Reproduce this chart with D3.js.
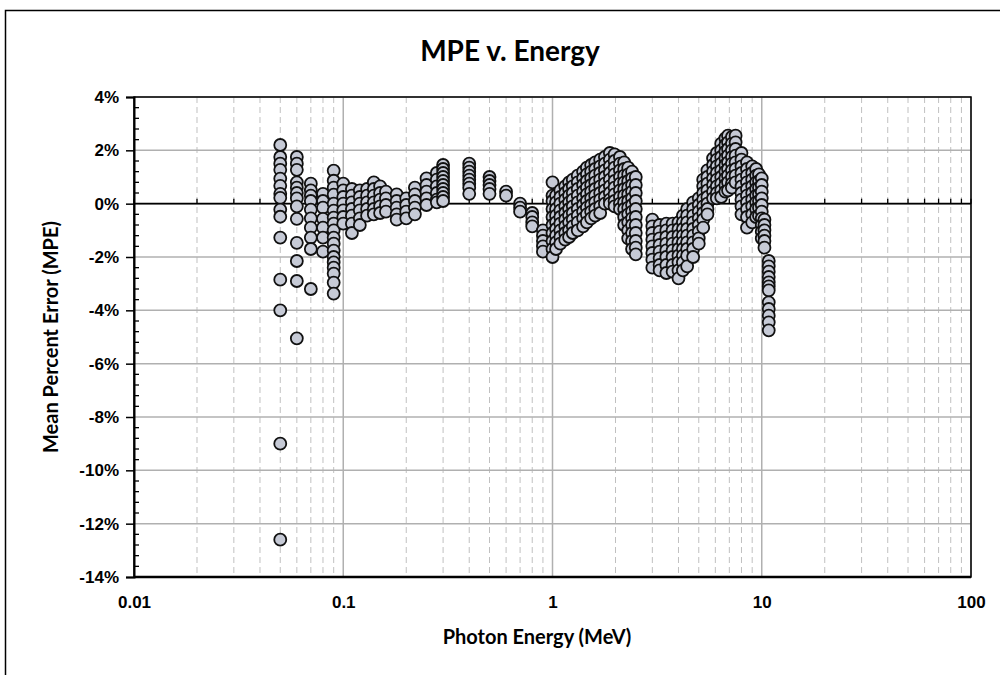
<!DOCTYPE html>
<html>
<head>
<meta charset="utf-8">
<script src="https://cdn.jsdelivr.net/npm/d3@7"></script>
<style>
  html, body { margin: 0; padding: 0; background: #fff; }
  svg { display: block; font-family: Lato, "Open Sans", sans-serif; }
</style>
</head>
<body>
<svg width="1000" height="675"></svg>
<script>
(function () {

  // photon energies (MeV), one column of points each
  const energies = [
    0.05, 0.06, 0.07, 0.08, 0.09, 0.1, 0.11, 0.12, 0.13, 0.14, 0.15, 0.16, 0.18, 0.2,
    0.22, 0.25, 0.28, 0.3, 0.4, 0.5, 0.6, 0.7, 0.8, 0.9, 1.0,
    1.04, 1.09, 1.15, 1.2, 1.25, 1.32, 1.4, 1.46, 1.53, 1.6, 1.69, 1.78, 1.88, 1.98,
    2.1, 2.2, 2.3, 2.4, 2.5,
    3.0, 3.25, 3.5, 3.75, 4.0, 4.2, 4.4, 4.7, 5.0, 5.25, 5.5, 5.85, 6.1, 6.4, 6.7,
    6.9, 7.2, 7.5, 8.0, 8.5, 9.0, 9.4, 9.7, 10.0, 10.3, 10.8
  ];

  const mpe = [
    [2.2, 1.75, 1.5, 1.27, 0.94, 0.67, 0.37, 0.22, -0.22, -0.49, -1.27, -2.85, -4.0, -9.0, -12.6],
    [1.75, 1.5, 1.27, 0.8, 0.6, 0.4, 0.2, -0.1, -0.57, -1.47, -2.15, -2.9, -5.05],
    [0.75, 0.5, 0.3, 0.1, -0.22, -0.55, -0.9, -1.27, -1.7, -3.2],
    [0.37, 0.1, -0.15, -0.57, -0.9, -1.27, -1.8],
    [1.24, 0.86, 0.6, 0.34, 0, -0.26, -0.52, -0.75, -1.0, -1.27, -1.5, -1.76, -2.0, -2.2, -2.4, -2.62, -2.96, -3.37],
    [0.75, 0.5, 0.25, 0, -0.25, -0.5, -0.75],
    [0.55, 0.3, 0.05, -0.2, -0.45, -0.75, -1.1],
    [0.5, 0.25, 0, -0.25, -0.55, -0.8],
    [0.55, 0.3, 0.05, -0.2, -0.45],
    [0.8, 0.55, 0.3, 0.05, -0.2, -0.4],
    [0.65, 0.4, 0.15, -0.1, -0.35],
    [0.45, 0.2, -0.05, -0.3],
    [0.35, 0.1, -0.15, -0.4, -0.6],
    [0.2, -0.05, -0.3, -0.55],
    [0.6, 0.35, 0.1, -0.15, -0.4],
    [0.95, 0.7, 0.45, 0.2, -0.05],
    [1.15, 0.9, 0.65, 0.4, 0.15, 0.05],
    [1.45, 1.3, 1.15, 1.0, 0.85, 0.7, 0.55, 0.4, 0.25, 0.1],
    [1.5, 1.35, 1.2, 1.05, 0.9, 0.75, 0.6, 0.37],
    [1.0, 0.85, 0.7, 0.55, 0.37],
    [0.45, 0.3],
    [0.0, -0.15, -0.3],
    [-0.35, -0.5, -0.7, -0.85],
    [-1.0, -1.2, -1.4, -1.6, -1.8],
    [0.8, 0.3, 0.1, -0.2, -0.5, -0.8, -1.1, -1.4, -1.7, -2.0],
    [0.3, 0.05, -0.2, -0.45, -0.7, -0.95, -1.2, -1.45, -1.7],
    [0.5, 0.25, 0, -0.25, -0.5, -0.75, -1.0, -1.25, -1.5],
    [0.65, 0.4, 0.15, -0.1, -0.35, -0.6, -0.85, -1.1, -1.35],
    [0.8, 0.55, 0.3, 0.05, -0.2, -0.45, -0.7, -1.0, -1.25],
    [0.9, 0.65, 0.4, 0.15, -0.1, -0.35, -0.6, -0.85, -1.1],
    [1.05, 0.8, 0.55, 0.3, 0.05, -0.2, -0.45, -0.7, -1.0],
    [1.2, 0.95, 0.7, 0.45, 0.2, -0.05, -0.3, -0.55, -0.85],
    [1.35, 1.1, 0.85, 0.6, 0.35, 0.1, -0.15, -0.4, -0.7],
    [1.45, 1.2, 0.95, 0.7, 0.45, 0.2, -0.05, -0.3, -0.55],
    [1.55, 1.3, 1.05, 0.8, 0.55, 0.3, 0.05, -0.2, -0.45],
    [1.65, 1.4, 1.15, 0.9, 0.65, 0.4, 0.15, -0.1, -0.35],
    [1.75, 1.5, 1.25, 1.0, 0.75, 0.5, 0.25, 0.0],
    [1.9, 1.65, 1.4, 1.15, 0.9, 0.65, 0.4, 0.15, 0.0],
    [1.85, 1.6, 1.35, 1.1, 0.85, 0.6, 0.35, 0.1, -0.1],
    [1.75, 1.5, 1.25, 1.0, 0.75, 0.5, 0.25, 0.0, -0.2],
    [1.55, 1.3, 1.05, 0.8, 0.55, 0.3, 0.05, -0.2, -0.5, -0.8],
    [1.35, 1.1, 0.85, 0.6, 0.35, 0.1, -0.15, -0.4, -0.7, -1.0, -1.3],
    [1.2, 0.95, 0.7, 0.45, 0.2, -0.05, -0.3, -0.55, -0.8, -1.1, -1.4, -1.7],
    [1.0, 0.7, 0.4, 0.1, -0.2, -0.5, -0.8, -1.1, -1.4, -1.65, -1.9],
    [-0.6, -0.85, -1.1, -1.35, -1.6, -1.85, -2.1, -2.4],
    [-0.8, -1.05, -1.3, -1.55, -1.8, -2.05, -2.3, -2.5],
    [-0.75, -1.0, -1.25, -1.5, -1.75, -2.0, -2.3, -2.6],
    [-0.75, -1.0, -1.25, -1.5, -1.75, -2.0, -2.3, -2.55],
    [-0.7, -0.95, -1.2, -1.45, -1.7, -1.95, -2.2, -2.5, -2.8],
    [-0.45, -0.7, -0.95, -1.2, -1.45, -1.7, -1.95, -2.2, -2.5],
    [-0.2, -0.45, -0.7, -0.95, -1.2, -1.45, -1.7, -1.95, -2.35],
    [0.05, -0.2, -0.45, -0.7, -0.95, -1.2, -1.45, -1.7, -2.0],
    [0.2, -0.05, -0.3, -0.55, -0.8, -1.05, -1.3, -1.5],
    [0.9, 0.65, 0.4, 0.15, -0.1, -0.35, -0.6, -0.9],
    [1.25, 1.0, 0.75, 0.5, 0.25, 0.0, -0.2, -0.4],
    [1.7, 1.45, 1.2, 0.95, 0.7, 0.45, 0.2],
    [1.9, 1.65, 1.4, 1.15, 0.9, 0.65, 0.4, 0.2],
    [2.25, 2.0, 1.75, 1.5, 1.25, 1.0, 0.75, 0.5, 0.25],
    [2.45, 2.2, 1.95, 1.7, 1.45, 1.2, 0.95, 0.7, 0.45],
    [2.55, 2.3, 2.05, 1.8, 1.55, 1.3, 1.05, 0.8, 0.5],
    [2.5, 2.25, 2.0, 1.75, 1.5, 1.25, 1.0, 0.75, 0.6],
    [2.55, 2.3, 2.05, 1.8, 1.55, 1.3, 1.05, 0.8],
    [1.9, 1.65, 1.4, 1.15, 0.9, 0.65, 0.4, 0.15, -0.1, -0.4],
    [1.55, 1.3, 1.05, 0.8, 0.55, 0.3, 0.05, -0.2, -0.5, -0.9],
    [1.4, 1.15, 0.9, 0.65, 0.4, 0.15, -0.1, -0.4, -0.7],
    [1.3, 1.05, 0.8, 0.55, 0.3, 0.05, -0.2, -0.5],
    [1.1, 0.85, 0.6, 0.35, 0.1, -0.15, -0.45],
    [0.95, 0.7, 0.45, 0.2, -0.05, -0.3, -0.55, -0.8, -1.05, -1.3],
    [-0.6, -0.8, -1.0, -1.2, -1.4, -1.65],
    [-2.15, -2.35, -2.55, -2.75, -2.95, -3.1, -3.25, -3.7, -3.95, -4.2, -4.45, -4.75]
  ];

  const xTicks = [0.01, 0.1, 1, 10, 100];
  const xTickLabels = ["0.01", "0.1", "1", "10", "100"];
  const yTicks = [4, 2, 0, -2, -4, -6, -8, -10, -12, -14];

  const svg = d3.select("svg");
  const plot = { left: 134, right: 971, top: 97, bottom: 577 };

  const x = d3.scaleLog().domain([0.01, 100]).range([plot.left, plot.right]);
  const y = d3.scaleLinear().domain([-14, 4]).range([plot.bottom, plot.top]);

  // outer frame (only left/top edges fall inside the picture)
  svg.append("rect")
    .attr("x", 5.5).attr("y", 10.5)
    .attr("width", 1010).attr("height", 700)
    .attr("fill", "#fff").attr("stroke", "#000").attr("stroke-width", 1.5);

  // minor vertical gridlines (dashed) at 2..9 of every decade
  const minorX = [];
  [0.01, 0.1, 1, 10].forEach(d => {
    for (let k = 2; k <= 9; k++) minorX.push(d * k);
  });

  const grid = svg.append("g");
  grid.selectAll("line.minor")
    .data(minorX)
    .enter().append("line")
    .attr("class", "minor")
    .attr("x1", d => x(d)).attr("x2", d => x(d))
    .attr("y1", plot.top).attr("y2", plot.bottom)
    .attr("stroke", "#c0c0c0")
    .attr("stroke-width", 1)
    .attr("stroke-dasharray", "6,4");

  grid.selectAll("line.majx")
    .data(xTicks)
    .enter().append("line")
    .attr("x1", d => x(d)).attr("x2", d => x(d))
    .attr("y1", plot.top).attr("y2", plot.bottom)
    .attr("stroke", "#b0b0b0")
    .attr("stroke-width", 1.5);

  grid.selectAll("line.majy")
    .data(yTicks)
    .enter().append("line")
    .attr("x1", plot.left).attr("x2", plot.right)
    .attr("y1", d => y(d)).attr("y2", d => y(d))
    .attr("stroke", "#b0b0b0")
    .attr("stroke-width", 1.5);

  // plot border
  svg.append("rect")
    .attr("x", plot.left).attr("y", plot.top)
    .attr("width", plot.right - plot.left).attr("height", plot.bottom - plot.top)
    .attr("fill", "none").attr("stroke", "#000").attr("stroke-width", 1.5);

  // horizontal axis line through 0% with small tick marks
  svg.append("line")
    .attr("x1", plot.left).attr("x2", plot.right)
    .attr("y1", y(0)).attr("y2", y(0))
    .attr("stroke", "#000").attr("stroke-width", 1.8);

  svg.append("g").selectAll("line")
    .data(minorX.concat(xTicks))
    .enter().append("line")
    .attr("x1", d => x(d)).attr("x2", d => x(d))
    .attr("y1", y(0)).attr("y2", y(0) - 5)
    .attr("stroke", "#000").attr("stroke-width", 1.3);

  // bottom edge thicker
  svg.append("line")
    .attr("x1", plot.left).attr("x2", plot.right)
    .attr("y1", plot.bottom).attr("y2", plot.bottom)
    .attr("stroke", "#000").attr("stroke-width", 2.5);

  // left axis
  const yAxis = svg.append("g")
    .attr("transform", `translate(${plot.left},0)`)
    .call(d3.axisLeft(y).tickValues(yTicks).tickSize(8).tickPadding(7).tickFormat(d => `${d}%`));
  yAxis.select(".domain").attr("stroke-width", 2);
  yAxis.selectAll(".tick line").attr("stroke-width", 1.5);
  yAxis.selectAll("text")
    .attr("font-size", 17).attr("font-weight", "bold").attr("fill", "#000");

  const minorY = d3.range(-14, 4.001, 0.4).filter(v => Math.abs(v / 2 - Math.round(v / 2)) > 0.01);
  svg.append("g").selectAll("line")
    .data(minorY)
    .enter().append("line")
    .attr("x1", plot.left).attr("x2", plot.left + 5)
    .attr("y1", d => y(d)).attr("y2", d => y(d))
    .attr("stroke", "#000").attr("stroke-width", 1.3);

  // bottom tick labels
  const xAxis = svg.append("g")
    .attr("transform", `translate(0,${plot.bottom})`)
    .call(d3.axisBottom(x).tickValues(xTicks).tickSize(0).tickPadding(19)
      .tickFormat((d, i) => xTickLabels[i]));
  xAxis.select(".domain").remove();
  xAxis.selectAll("text")
    .attr("font-size", 17).attr("font-weight", "bold").attr("fill", "#000");

  // points
  const points = energies.flatMap((e, i) => mpe[i].map(v => ({ e, v })));

  svg.append("g").selectAll("circle")
    .data(points)
    .enter().append("circle")
    .attr("cx", d => x(d.e))
    .attr("cy", d => y(d.v))
    .attr("r", 6)
    .attr("fill", "#c6cad6")
    .attr("stroke", "#111")
    .attr("stroke-width", 1.8);

  // titles
  svg.append("text")
    .attr("x", 510).attr("y", 61)
    .attr("text-anchor", "middle")
    .attr("font-size", 28).attr("font-weight", "bold")
    .text("MPE v. Energy");

  svg.append("text")
    .attr("x", 537).attr("y", 644)
    .attr("text-anchor", "middle")
    .attr("font-size", 20).attr("font-weight", "bold")
    .text("Photon Energy (MeV)");

  svg.append("text")
    .attr("transform", "translate(58,337) rotate(-90)")
    .attr("text-anchor", "middle")
    .attr("font-size", 20).attr("font-weight", "bold")
    .text("Mean Percent Error (MPE)");

}());
</script>
</body>
</html>
